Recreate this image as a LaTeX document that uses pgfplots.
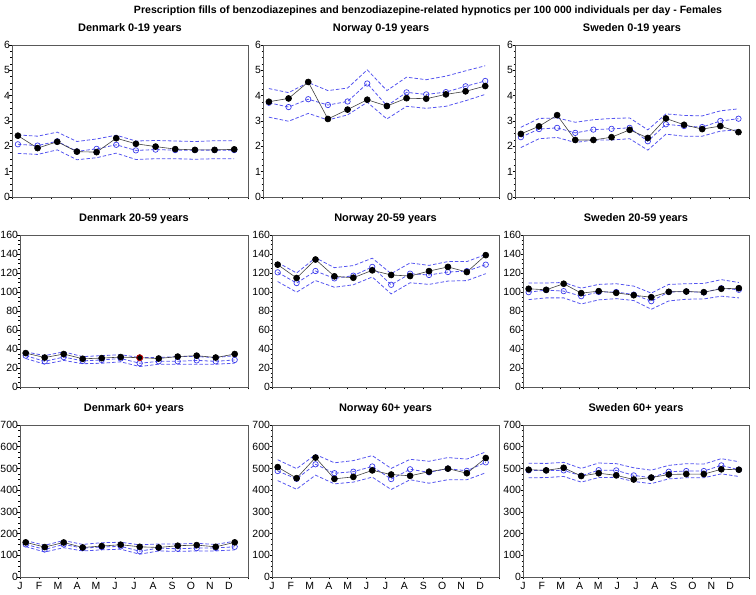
\documentclass[border=0pt]{standalone}
\usepackage{pgfplots}
\pgfplotsset{compat=1.18}
\usepackage{pgfplotstable}
\usepackage{fontspec}
\setmainfont{Liberation Sans}
\definecolor{bl}{RGB}{60,60,235}
\definecolor{bd}{RGB}{85,85,240}

% x: Denmark/Norway monthly, Sweden 13 four-week periods
\pgfplotstableread{
x obs pred up lo
0.3  2.42 2.08 2.45 1.72
1.3  1.93 2.03 2.40 1.68
2.3  2.18 2.20 2.56 1.86
3.3  1.79 1.80 2.19 1.47
4.3  1.77 1.90 2.29 1.55
5.3  2.32 2.06 2.44 1.73
6.3  2.10 1.84 2.21 1.48
7.3  1.99 1.87 2.23 1.51
8.3  1.89 1.85 2.21 1.51
9.3  1.86 1.85 2.19 1.49
10.3 1.86 1.85 2.22 1.51
11.3 1.88 1.85 2.22 1.51
}\dkA
\pgfplotstableread{
x obs pred up lo
0.3  3.76 3.72 4.28 3.15
1.3  3.89 3.55 4.12 2.99
2.3  4.54 3.86 4.52 3.30
3.3  3.08 3.63 4.20 3.04
4.3  3.45 3.77 4.30 3.24
5.3  3.84 4.48 5.02 3.74
6.3  3.59 3.60 4.20 3.08
7.3  3.90 4.13 4.73 3.58
8.3  3.88 4.05 4.63 3.50
9.3  4.05 4.14 4.77 3.58
10.3 4.17 4.37 4.98 3.80
11.3 4.38 4.58 5.18 4.05
}\noA
\pgfplotstableread{
x obs pred up lo
0.30  2.49 2.36 2.75 1.95
1.23  2.79 2.68 3.10 2.30
2.16  3.23 2.73 3.12 2.35
3.09  2.25 2.53 2.95 2.15
4.02  2.25 2.66 3.05 2.25
4.95  2.36 2.69 3.10 2.25
5.88  2.65 2.73 3.12 2.30
6.81  2.33 2.20 2.65 1.85
7.74  3.10 2.87 3.28 2.48
8.67  2.85 2.80 3.22 2.40
9.60  2.68 2.76 3.20 2.40
10.53 2.80 3.00 3.40 2.60
11.46 2.56 3.09 3.48 2.65
}\seA
\pgfplotstableread{
x obs pred up lo
0.3  35.7 33.0 37 30
1.3  31.0 27.0 33 24
2.3  34.7 31.5 37 28
3.3  29.7 27.5 32 24.5
4.3  30.4 28.5 33 25
5.3  31.5 30.0 34 26.5
6.3  30.8 25.0 31 21.5
7.3  30.0 27.0 31 24
8.3  32.0 27.0 32 24
9.3  33.0 28.0 32 24
10.3 31.0 27.0 31 24
11.3 34.7 28.5 33 25
}\dkB
\pgfplotstableread{
x obs pred up lo
0.3  128.8 120.7 131.0 111.0
1.3  114.7 109.4 120.0  99.8
2.3  134.2 122.1 136.0 112.0
3.3  116.5 114.3 125.6 105.0
4.3  115.0 117.2 127.8 107.6
5.3  122.8 126.4 135.6 115.8
6.3  117.9 107.6 119.3  98.0
7.3  116.8 119.3 130.6 109.7
8.3  122.0 117.9 128.0 108.0
9.3  126.4 121.0 132.0 111.5
10.3 121.0 122.0 132.0 112.0
11.3 138.8 128.8 139.5 119.3
}\noB
\pgfplotstableread{
x obs pred up lo
0.30  103.4  99.8 109.4 92.0
1.23  102.3 102.0 109.5 93.8
2.16  108.7 100.9 110.0 93.8
3.09   98.8  95.6 104.0 87.4
4.02  100.9 100.0 108.0 91.7
4.95   99.1 100.0 108.7 93.0
5.88   96.6  97.3 106.2 91.0
6.81   94.5  90.3  98.8 81.8
7.74  100.2 100.0 108.0 90.6
8.67  100.5 100.5 108.7 92.4
9.60   99.8  99.5 109.0 92.7
10.53 103.4 104.0 113.0 95.6
11.46 104.0 102.3 110.0 93.8
}\seB
\pgfplotstableread{
x obs pred up lo
0.3  159.5 150 168 140
1.3  137.8 127 146 115
2.3  159.0 150 168 135
3.3  136.0 133 150 120
4.3  142.5 138 158 125
5.3  148.7 141 160 128
6.3  139.0 119 148 105
7.3  136.0 133 152 120
8.3  144.0 130 152 118
9.3  147.0 133 155 120
10.3 139.0 134 150 120
11.3 159.5 139 165 125
}\dkC
\pgfplotstableread{
x obs pred up lo
0.3  506 488 540 444
1.3  455 452 499 404
2.3  550 519 564 469
3.3  452 478 526 429
4.3  461 485 536 437
5.3  491 509 559 460
6.3  472 451 500 403
7.3  466 496 542 448
8.3  485 482 533 432
9.3  499 499 550 448
10.3 478 489 543 448
11.3 548 528 576 480
}\noC
\pgfplotstableread{
x obs pred up lo
0.30  494 491 524 457
1.23  491 491 523 458
2.16  503 491 528 463
3.09  465 466 500 437
4.02  478 492 525 458
4.95  468 491 522 459
5.88  449 468 503 440
6.81  458 457 492 430
7.74  472 485 514 452
8.67  474 488 522 457
9.60  474 488 520 457
10.53 496 514 545 475
11.46 494 494 531 463
}\seC

\pgfplotsset{
  pan/.style={
    scale only axis, height=152bp,
    xmin=0, xmax=12, xtick={0,...,12}, xticklabels={},
    tick align=outside, xtick pos=bottom, ytick pos=left,
    axis line style={black!65, line width=0.6pt},
    major tick style={black, line width=0.5pt}, minor tick style={black, line width=0.4pt},
    major tick length=2.5bp, minor tick length=1.5bp,
    minor y tick num=3,
    /pgf/number format/assume math mode=true,
    tick label style={font=\fontsize{10.5}{12}\selectfont},
    yticklabel style={xshift=0.6bp, inner sep=0bp},
    xticklabel style={inner sep=2bp, text height=7.6bp, text depth=0bp},
    title style={font=\bfseries\fontsize{11}{12}\selectfont, at={(0.5,1)}, anchor=south, yshift=2bp},
    clip=false,
  },
  r1/.style={pan, ymin=0, ymax=6, ytick={0,...,6}},
  r2/.style={pan, ymin=0, ymax=160, ytick={0,20,...,160}},
  r3/.style={pan, ymin=0, ymax=700, ytick={0,100,...,700},
     xticklabels={J,F,M,A,M,J,J,A,S,O,N,D,}},
}
\newcommand{\series}[1]{%
  \addplot[bd, dash pattern=on 3.5bp off 2bp, line width=0.8pt] table[x=x,y=up]{#1};
  \addplot[bd, dash pattern=on 3.5bp off 2bp, line width=0.8pt] table[x=x,y=lo]{#1};
  \addplot[bd, dash pattern=on 3.5bp off 2bp, line width=0.8pt, mark=o, mark size=2.7bp, mark options={solid, bl, line width=0.7pt}] table[x=x,y=pred]{#1};
  \addplot[black!75, line width=0.6pt, mark=*, mark size=3bp, mark options={solid, black, fill=black}] table[x=x,y=obs]{#1};
}

\begin{document}
\begin{tikzpicture}
\path[use as bounding box] (0,0) rectangle (756bp,595bp);
\node[font=\bfseries\fontsize{10.6}{12}\selectfont] at (428bp,584bp) {Prescription fills of benzodiazepines and benzodiazepine-related hypnotics per 100 000 individuals per day - Females};

% Row 1
\begin{axis}[r1, at={(12bp,550bp)}, anchor=north west, width=236bp, title={Denmark 0-19 years}]
\series{\dkA}
\end{axis}
\begin{axis}[r1, at={(263bp,550bp)}, anchor=north west, width=236bp, title={Norway 0-19 years}]
\series{\noA}
\end{axis}
\begin{axis}[r1, at={(515bp,550bp)}, anchor=north west, width=234bp, title={Sweden 0-19 years}]
\series{\seA}
\end{axis}

% Row 2
\begin{axis}[r2, at={(20bp,360bp)}, anchor=north west, width=228bp, title={Denmark 20-59 years}]
\series{\dkB}
\addplot[only marks, mark=*, mark size=3bp, mark options={draw=red!85!black, fill=black, line width=0.7pt}] coordinates {(6.3,30.8)};
\end{axis}
\begin{axis}[r2, at={(272bp,360bp)}, anchor=north west, width=227bp, title={Norway 20-59 years}]
\series{\noB}
\end{axis}
\begin{axis}[r2, at={(523bp,360bp)}, anchor=north west, width=226bp, title={Sweden 20-59 years}]
\series{\seB}
\end{axis}

% Row 3
\begin{axis}[r3, at={(20bp,170bp)}, anchor=north west, width=228bp, title={Denmark 60+ years}]
\series{\dkC}
\end{axis}
\begin{axis}[r3, at={(272bp,170bp)}, anchor=north west, width=227bp, title={Norway 60+ years}]
\series{\noC}
\end{axis}
\begin{axis}[r3, at={(523bp,170bp)}, anchor=north west, width=226bp, title={Sweden 60+ years}]
\series{\seC}
\end{axis}
\end{tikzpicture}
\end{document}
